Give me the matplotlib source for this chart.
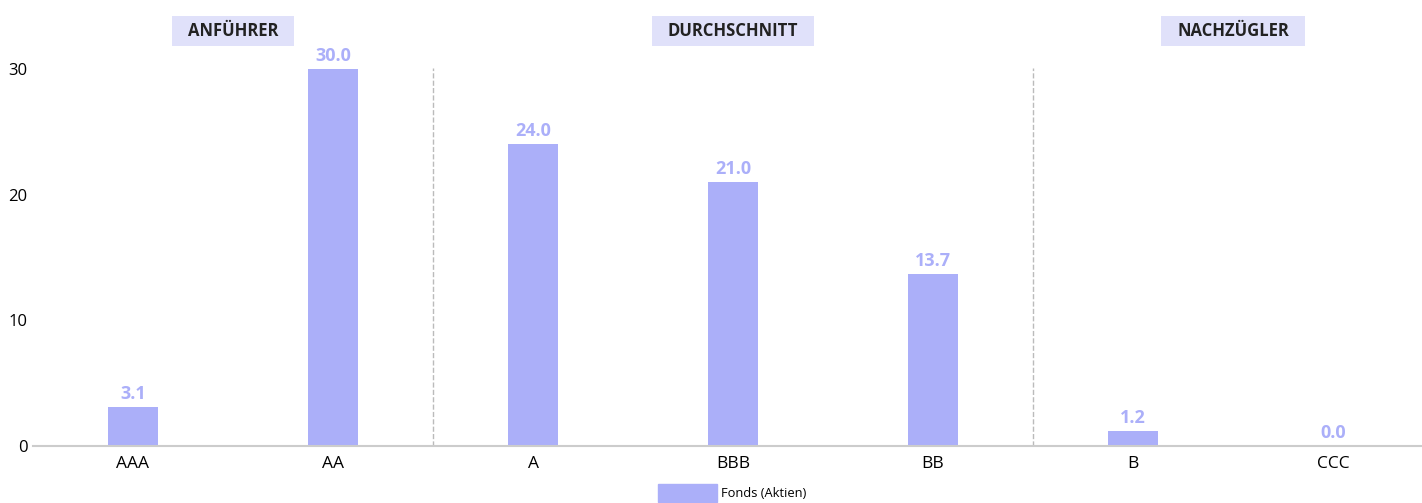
import matplotlib.pyplot as plt
from matplotlib.patches import Patch, Rectangle

plt.rcParams['font.family'] = ['Open Sans', 'DejaVu Sans']

ratings = ['AAA', 'AA', 'A', 'BBB', 'BB', 'B', 'CCC']
fonds = [3.1, 30.0, 24.0, 21.0, 13.7, 1.2, 0.0]
groups = ['ANFÜHRER', 'DURCHSCHNITT', 'NACHZÜGLER']
group_centers = [0.5, 3.0, 5.5]
dividers = [1.5, 4.5]

BAR = '#abaff9'
HEAD = '#e0e1fa'
W, H = 1422, 503

fig = plt.figure(figsize=(W / 100, H / 100), dpi=100)
ax = fig.add_axes([33 / W, 57 / H, 1389 / W, 377 / H])

x = range(len(ratings))
ax.bar(x, fonds, width=0.25, color=BAR, zorder=2)
for xi, v in zip(x, fonds):
    ax.annotate(f'{v:.1f}', (xi, v), xytext=(0, 3), textcoords='offset points',
                ha='center', va='bottom', color=BAR, fontsize=13,
                fontweight='bold')

ax.set_xlim(-0.5, 6.445)
ax.set_ylim(0, 30)
ax.set_yticks([0, 10, 20, 30])
ax.set_xticks(list(x))
ax.set_xticklabels(ratings)
ax.tick_params(axis='x', length=0, pad=7, labelsize=12.5)
ax.tick_params(axis='y', length=0, pad=4, labelsize=12)
for side in ['top', 'right', 'left']:
    ax.spines[side].set_visible(False)
ax.spines['bottom'].set_color('#cccccc')
ax.spines['bottom'].set_linewidth(1.5)

for d in dividers:
    ax.plot([d, d], [0, 30.1], ls='--', color='#bbbbbb', lw=1, clip_on=False)

# group headers: text plus a flat box padded around it
renderer = fig.canvas.get_renderer()
for g, c in zip(groups, group_centers):
    xf = ax.transData.transform((c, 0))[0] / W
    t = fig.text(xf, 1 - 31 / H, g, ha='center', va='center', fontsize=12,
                 fontweight='bold', color='#222222', zorder=3)
    bb = t.get_window_extent(renderer)
    fig.patches.append(Rectangle((bb.x0 - 16, H - 46), bb.width + 32, 30,
                                 transform=None, fc=HEAD, ec='none', zorder=1))

fig.legend(handles=[Patch(color=BAR, label='Fonds (Aktien)')],
           loc='lower center', bbox_to_anchor=(0.515, 0.0), frameon=False,
           borderpad=0, borderaxespad=0.1,
           fontsize=9.3, handlelength=4.6, handleheight=1.75, handletextpad=0.3)

fig.savefig('out.png', dpi=100)
